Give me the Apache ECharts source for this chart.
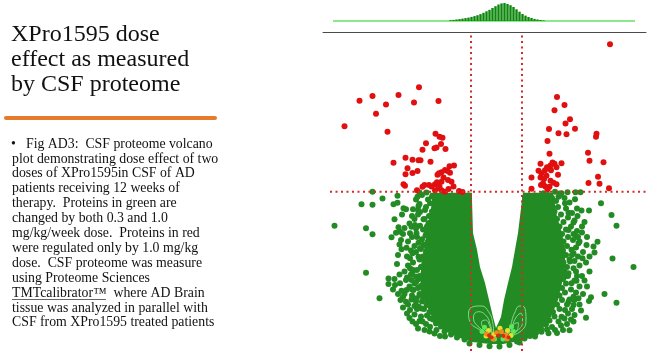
<!DOCTYPE html>
<html><head><meta charset="utf-8">
<script src="https://cdn.jsdelivr.net/npm/echarts/dist/echarts.min.js"></script>
<style>html,body{margin:0;padding:0;background:#fff}#c{width:650px;height:358px}</style>
</head><body><div id="c"></div>
<script>
// ---- Data (log2 fold change, -log10 p) ----
const cutoffFC = [-0.52, 0.50];
const cutoffP = 5.21;

const histBins = [-0.93,-0.87,-0.81,-0.75,-0.69,-0.63,-0.57,-0.51,-0.45,-0.39,-0.33,-0.27,-0.21,-0.15,-0.09,-0.03,0.03,0.09,0.15,0.21,0.27,0.33,0.39,0.45,0.51,0.57,0.63,0.69,0.75,0.81,0.87,0.93];
const histCounts = [16,22,30,38,48,58,68,82,98,116,138,164,194,224,260,296,330,352,360,340,316,280,234,186,140,108,80,60,42,30,20,12];
const histBaseline = [[-3.28,0],[2.76,0]];

// outline of the dense (overplotted) green cloud
const greenRegion = [[-1.34,5.17],[-0.50,5.17],[-0.50,4.93],[-0.48,3.83],[-0.40,3.27],[-0.34,2.70],[-0.24,2.17],[-0.16,1.60],[-0.08,1.03],[-0.02,0.67],[0.08,1.03],[0.14,1.60],[0.22,2.17],[0.30,2.70],[0.36,3.27],[0.42,3.83],[0.50,4.93],[0.52,5.17],[1.12,5.17],[1.20,4.37],[1.30,3.83],[1.36,3.27],[1.36,2.70],[1.30,2.17],[1.22,1.60],[1.08,1.03],[0.88,0.60],[0.56,0.27],[0.12,0.13],[-0.14,0.13],[-0.50,0.20],[-0.80,0.37],[-1.08,0.60],[-1.30,1.03],[-1.46,1.60],[-1.52,2.17],[-1.52,2.70],[-1.46,3.27],[-1.40,3.83],[-1.34,4.37],[-1.30,4.93]];

const greenPoints = [
[-2.49,5.21],[-2.71,4.79],[-2.49,4.77],[-2.29,4.98],[-2.07,4.79],[-1.99,4.84],[-1.99,5.07],[-1.87,4.66],[-1.82,4.62],[-1.57,4.73],[-1.54,4.53],[-1.44,4.60],[-1.59,5.04],[-1.41,5.18],[-1.34,4.82],[-1.55,5.18],
[-3.25,4.07],[-2.62,3.99],[-2.49,3.79],[-2.05,4.29],[-1.97,4.02],[-2.02,3.84],[-2.11,3.69],[-1.94,3.87],[-1.74,3.82],[-1.71,4.04],[-1.64,4.10],[-1.54,4.07],[-1.61,3.82],[-1.47,4.29],[-1.37,4.16],[-1.31,4.38],[-1.41,3.88],
[-1.57,3.51],[-1.47,3.43],[-1.34,3.54],[-1.54,3.32],[-1.91,3.29],[-1.81,3.34],[-1.69,3.16],[-1.74,2.99],[-1.57,3.04],[-1.41,3.10],[-1.74,2.66],[-1.69,2.54],[-1.51,2.71],[-1.44,2.88],
[-2.62,2.51],[-2.17,2.32],[-2.17,2.13],[-2.04,2.10],[-1.94,2.16],[-1.82,2.27],[-1.71,2.27],[-1.57,2.29],[-1.91,1.91],[-1.81,1.93],[-1.67,1.93],[-1.54,2.04],[-1.93,1.60],[-1.82,1.54],[-1.71,1.62],[-1.61,1.66],[-1.51,1.73],[-2.35,1.66],[-1.74,1.27],[-1.57,1.38],[-1.51,1.32],[-1.41,1.43],[-1.69,0.88],[-1.49,0.88],[-1.34,0.99],[-1.34,0.71],[-1.21,0.60],[-1.14,0.40],[-1.04,0.38],
[2.08,4.82],[2.29,4.43],[2.39,4.07],[1.69,4.58],[1.84,4.58],[1.56,4.96],[1.61,4.40],[1.53,4.18],[1.43,4.51],[1.36,4.82],[1.23,5.04],[1.29,5.16],[1.16,5.21],
[1.43,3.93],[1.53,3.80],[1.59,3.71],[1.79,3.43],[1.93,3.38],[2.01,3.54],[1.95,3.18],[1.63,3.49],[1.49,3.27],[1.71,2.99],[1.53,3.16],[1.46,2.88],[2.31,2.98],[2.73,2.70],[1.53,2.66],[1.43,2.49],[1.59,2.24],[1.49,2.16],[1.36,2.38],
[2.15,1.80],[2.39,1.51],[1.88,1.69],[1.84,1.57],[1.63,1.66],[1.53,1.71],[1.43,1.54],[1.53,1.43],[1.36,1.27],[1.78,1.01],[1.53,0.88],[1.45,0.59],[1.29,1.04],[1.23,0.88],[1.16,0.60],[1.03,0.49],[0.89,0.54],[0.76,0.38],
[0.56,5.01],[0.66,5.02],[0.93,5.16],[1.06,5.04],[1.26,5.10],[1.41,5.19],[1.57,5.19],[1.67,5.19],
[-1.30,5.05],[-1.38,4.95],[-1.25,4.85],[-1.42,4.70],[-1.30,4.55],[-1.36,4.40],[-1.45,4.30],[-1.33,4.20],[-1.40,4.05],[-1.48,3.95],[-1.35,3.90],[-1.43,3.75],[-1.50,3.62],[-1.38,3.55],[-1.46,3.45],[-1.52,3.30],[-1.42,3.20],[-1.48,3.05],[-1.55,2.95],[-1.45,2.85],[-1.52,2.70],[-1.60,2.60],[-1.47,2.50],[-1.55,2.40],[-1.62,2.20],[-1.50,2.10],[-1.58,2.00],[-1.47,1.90],[-1.55,1.80],[-1.45,1.68],[-1.50,1.55],[-1.40,1.45],[-1.46,1.30],[-1.35,1.20],[-1.40,1.08],[-1.28,0.95],[-1.22,0.82],[-1.12,0.72],[-1.05,0.55],[-0.92,0.45],[-0.80,0.35],[-0.65,0.28],
[1.02,5.10],[1.10,5.00],[1.18,4.90],[1.08,4.80],[1.22,4.70],[1.15,4.55],[1.28,4.45],[1.20,4.30],[1.33,4.20],[1.25,4.05],[1.38,3.95],[1.30,3.80],[1.42,3.70],[1.33,3.55],[1.40,3.40],[1.32,3.25],[1.38,3.10],[1.45,2.95],[1.33,2.85],[1.40,2.70],[1.35,2.55],[1.42,2.40],[1.32,2.30],[1.38,2.15],[1.30,2.00],[1.36,1.85],[1.25,1.75],[1.30,1.60],[1.20,1.45],[1.25,1.30],[1.12,1.20],[1.15,1.05],[1.05,0.92],[0.98,0.78],[0.88,0.65],[0.78,0.50],[0.66,0.40],[0.55,0.32],[0.40,0.22],
[-0.55,0.15],[-0.35,0.10],[-0.15,0.06],[0.05,0.05],[0.25,0.10],[0.45,0.18],
[-1.50,5.10],[-1.62,4.95],[-1.55,4.80],[-1.68,4.62],[-1.58,4.45],[-1.65,4.30],[-1.75,4.15],[-1.62,3.98],[-1.70,3.70],[-1.78,3.55],[-1.65,3.40],[-1.72,3.25],[-1.80,3.05],[-1.68,2.85],[-1.78,2.75],[-1.85,2.55],[-1.72,2.45],[-1.80,2.35],[-1.65,2.15],[-1.75,2.05],[-1.85,1.80],[-1.70,1.75],[-1.62,1.55],[-1.78,1.45],[-1.60,1.30],[-1.65,1.12],[-1.52,1.05],[-1.55,0.90],[-1.42,0.80],[-1.35,0.55],[-1.25,0.48],
[1.25,5.15],[1.35,5.00],[1.45,4.85],[1.38,4.65],[1.50,4.50],[1.42,4.35],[1.55,4.25],[1.48,4.05],[1.60,3.90],[1.52,3.60],[1.65,3.55],[1.58,3.35],[1.62,3.05],[1.55,2.90],[1.65,2.75],[1.58,2.55],[1.70,2.40],[1.55,2.25],[1.65,2.05],[1.48,1.95],[1.58,1.85],[1.45,1.62],[1.40,1.45],[1.42,1.15],[1.35,0.98],[1.28,0.75],[1.10,0.70],[1.00,0.62],
[-1.90,4.45],[-1.85,4.00],[-1.92,3.60],[-1.98,3.10],[-2.00,2.80],[-1.95,2.45],[-2.05,2.30],[-1.98,1.80],[-2.08,1.95],[-1.88,1.70],[-1.88,1.35],[-1.80,1.15],[-1.75,1.00],[-1.62,0.80],[-1.58,0.65],[-1.45,0.60],[-1.88,3.80],[-1.95,3.45],[-1.58,4.60],[-1.70,4.40],[-1.60,3.70],[-1.62,3.20],[-1.68,2.60],[-1.62,2.38],[-1.70,1.95],[-1.65,1.40],
[1.75,4.20],[1.70,3.85],[1.80,3.70],[1.72,3.20],[1.85,3.05],[1.78,2.85],[1.85,2.55],[1.75,2.25],[1.80,2.05],[1.72,1.80],[1.65,1.45],[1.68,1.25],[1.55,1.10],[1.48,0.95],[1.40,0.80],[1.32,0.60],[1.20,0.50],[1.60,4.65],[1.70,4.05],[1.62,3.70],[1.50,3.10],[1.60,2.40],[1.55,1.60],[1.50,1.30]
];

const redPoints = [
[-1.56,8.69],[-2.75,8.24],[-2.49,8.40],[-1.97,8.43],[-2.22,8.11],[-1.66,8.18],[-1.17,8.23],[-2.42,7.81],[-3.05,7.39],[-2.19,7.21],[-1.23,7.14],[-1.15,7.04],[-1.09,7.01],[-1.42,6.82],[-1.12,6.80],[-1.21,6.68],[-1.25,6.66],[-1.03,6.63],[-1.49,6.61],[-1.83,6.34],[-1.69,6.27],[-1.57,6.26],[-1.53,6.26],[-1.33,6.21],[-2.07,6.17],[-1.79,5.99],[-0.86,6.08],[-0.95,6.06],[-1.04,5.93],[-0.99,5.90],[-1.11,5.86],[-1.16,5.82],[-1.59,5.90],[-1.83,5.79],[-1.69,5.83],[-0.94,5.84],[-1.19,5.77],[-1.07,5.68],[-1.11,5.54],[-0.98,5.60],[-0.91,5.54],[-1.87,5.46],[-1.84,5.41],[-1.45,5.43],[-1.24,5.46],[-1.20,5.52],[-1.36,5.43],[-1.31,5.38],[-1.15,5.38],[-0.87,5.38],[-0.76,5.23],[-1.49,5.37],[-1.60,5.26],[-1.17,5.32],[-1.11,5.26],[-1.04,5.21],[-0.69,5.20],[-1.24,5.26],[-0.97,5.30],
[2.26,10.12],
[1.20,8.36],[1.35,8.10],[1.15,7.92],[1.46,7.62],[1.37,7.48],[1.56,7.31],[1.04,7.30],[1.23,7.16],[1.39,7.12],[1.99,7.14],[1.98,7.04],[1.01,6.90],[1.82,6.51],[1.05,6.47],[1.85,6.24],[2.13,6.19],[0.87,6.14],[1.11,6.18],[1.15,6.14],[1.29,6.16],[1.07,6.08],[1.00,6.02],[0.83,5.91],[1.19,6.02],[0.96,5.92],[1.08,5.92],[0.89,5.82],[0.99,5.74],[1.22,5.77],[0.69,5.68],[0.87,5.68],[0.94,5.63],[2.02,5.71],[1.07,5.57],[0.92,5.48],[1.13,5.51],[1.19,5.46],[1.83,5.50],[2.05,5.47],[0.96,5.39],[1.05,5.37],[0.69,5.31],[2.24,5.32],[1.01,5.29],[0.88,5.43]
];

const contours = [
[[-0.09,0.38],[-0.34,0.60],[-0.54,0.88],[-0.57,1.16],[-0.47,1.38],[-0.31,1.40],[-0.17,1.21],[-0.09,0.88],[-0.07,0.54],[-0.09,0.38]],
[[-0.09,0.38],[-0.41,0.77],[-0.47,1.04],[-0.37,1.21],[-0.23,1.10],[-0.14,0.82],[-0.09,0.38]],
[[-0.09,0.38],[-0.27,0.66],[-0.31,0.86],[-0.23,0.93],[-0.14,0.71],[-0.09,0.38]],
[[0.16,0.38],[0.26,0.71],[0.35,1.16],[0.46,1.40],[0.56,1.32],[0.58,0.93],[0.46,0.54],[0.16,0.38]],
[[0.16,0.38],[0.29,0.71],[0.39,1.04],[0.48,1.16],[0.51,0.88],[0.41,0.58],[0.16,0.38]],
[[0.16,0.38],[0.29,0.60],[0.36,0.82],[0.43,0.84],[0.41,0.62],[0.16,0.38]]
];
const heatLime = [[-0.25,0.69],[0.29,0.71],[-0.05,0.30],[0.12,0.30],[-0.30,0.55],[0.33,0.55]];
const heatYellow = [[-0.17,0.58],[0.06,0.66],[0.21,0.58],[-0.06,0.45],[-0.22,0.40],[0.28,0.42]];
const heatOrange = [[-0.21,0.47],[-0.01,0.51],[0.09,0.54],[0.17,0.43],[-0.08,0.30],[0.20,0.30]];
const heatRed = [[-0.11,0.36],[0.23,0.36],[-0.16,0.42],[0.13,0.40],[0.02,0.42]];

const titleLines = ['XPro1595 dose','effect as measured','by CSF proteome'];
const bodyLines = ['Fig AD3:  CSF proteome volcano','plot demonstrating dose effect of two','doses of XPro1595in CSF of AD','patients receiving 12 weeks of','therapy.  Proteins in green are','changed by both 0.3 and 1.0','mg/kg/week dose.  Proteins in red','were regulated only by 1.0 mg/kg','dose.  CSF proteome was measure','using Proteome Sciences','TMTcalibrator\u2122  where AD Brain','tissue was analyzed in parallel with','CSF from XPro1595 treated patients'];

// ---- Chart ----
const chart = echarts.init(document.getElementById('c'), null, {renderer:'canvas'});
const SERIF = '"Liberation Serif","Times New Roman",serif';
const graphics = [];
titleLines.forEach((t,i)=>graphics.push({type:'text', x:11, y:35+25*i, style:{text:t, font:'24px '+SERIF, fill:'#111', verticalAlign:'middle', textVerticalAlign:'middle'}}));
graphics.push({type:'line', shape:{x1:6,y1:118,x2:215,y2:118}, style:{stroke:'#e57c2c', lineWidth:4, lineCap:'round'}});
graphics.push({type:'text', x:11, y:144, style:{text:'\u2022', font:'13.8px '+SERIF, fill:'#111', verticalAlign:'middle', textVerticalAlign:'middle'}});
bodyLines.forEach((t,i)=>graphics.push({type:'text', x: i===0?26:12, y:144+14.9*i, style:{text:t, font:'13.8px '+SERIF, fill:'#111', verticalAlign:'middle', textVerticalAlign:'middle'}}));
graphics.push({type:'line', shape:{x1:12,y1:299.5,x2:106,y2:299.5}, style:{stroke:'#666', lineWidth:1}});

const dashed = {type:[2,3.5], width:2, color:'#d42a2a'};
const series = [
  {type:'line', xAxisIndex:1, yAxisIndex:1, data:histBaseline, symbol:'none', lineStyle:{color:'#8de88d', width:2}, z:1},
  {type:'bar', xAxisIndex:1, yAxisIndex:1, data:histBins.map((b,i)=>[b,histCounts[i]]), barWidth:2.4, itemStyle:{color:'#0b870b'}, z:2},
  {type:'custom', xAxisIndex:0, yAxisIndex:0, data:[[0,0]], z:2,
    renderItem:(params, api)=>({type:'polygon', shape:{points:greenRegion.map(p=>api.coord(p))}, style:{fill:'#238b23'}})},
  {type:'scatter', data:greenPoints, symbolSize:6, itemStyle:{color:'#238b23', opacity:1}, z:3},
  ...contours.map(c=>({type:'line', data:c, symbol:'none', smooth:0.5, lineStyle:{color:'#86d986', width:1}, z:4})),
  {type:'scatter', data:heatLime, symbolSize:5, itemStyle:{color:'#5ee85e', opacity:1}, z:5},
  {type:'scatter', data:heatYellow, symbolSize:5, itemStyle:{color:'#e8e030', opacity:1}, z:5},
  {type:'scatter', data:heatOrange, symbolSize:5, itemStyle:{color:'#f08a20', opacity:1}, z:5},
  {type:'scatter', data:heatRed, symbolSize:4, itemStyle:{color:'#e02a10', opacity:1}, z:5},
  {type:'scatter', data:redPoints, symbolSize:6, itemStyle:{color:'#e01010', opacity:1}, z:6},
  {type:'line', data:[[cutoffFC[0],-0.1],[cutoffFC[0],10.53]], symbol:'none', lineStyle:dashed, z:7},
  {type:'line', data:[[cutoffFC[1],-0.1],[cutoffFC[1],10.53]], symbol:'none', lineStyle:dashed, z:7},
  {type:'line', data:[[-3.34,cutoffP],[2.98,cutoffP]], symbol:'none', lineStyle:dashed, z:7}
];

chart.setOption({
  animation:false,
  backgroundColor:'#fff',
  graphic:graphics,
  grid:[{left:323, top:32, width:323, height:325}, {left:323, top:1, width:323, height:20}],
  xAxis:[
    {type:'value', gridIndex:0, min:-3.48, max:2.98, position:'top', axisLine:{show:true, onZero:false, lineStyle:{color:'#4a4a4a', width:1}}, axisTick:{show:false}, axisLabel:{show:false}, splitLine:{show:false}},
    {type:'value', gridIndex:1, min:-3.48, max:2.98, show:false}
  ],
  yAxis:[
    {type:'value', gridIndex:0, min:-0.3, max:10.53, show:false},
    {type:'value', gridIndex:1, min:0, max:400, show:false}
  ],
  series:series
});
</script></body></html>
